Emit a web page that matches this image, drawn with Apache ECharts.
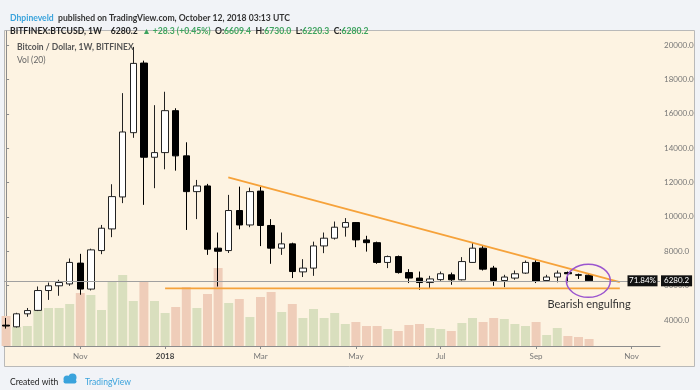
<!DOCTYPE html>
<html><head><meta charset="utf-8">
<script src="https://cdn.jsdelivr.net/npm/echarts@6/dist/echarts.min.js"></script>
<style>html,body{margin:0;padding:0;background:#f1f3f7;}#c{width:700px;height:390px;}</style>
</head><body><div id="c"></div>
<script>
// ---- data ----
const weeks = ['2017-09-18','2017-09-25','2017-10-02','2017-10-09','2017-10-16','2017-10-23','2017-10-30','2017-11-06','2017-11-13','2017-11-20','2017-11-27','2017-12-04','2017-12-11','2017-12-18','2017-12-25','2018-01-01','2018-01-08','2018-01-15','2018-01-22','2018-01-29','2018-02-05','2018-02-12','2018-02-19','2018-02-26','2018-03-05','2018-03-12','2018-03-19','2018-03-26','2018-04-02','2018-04-09','2018-04-16','2018-04-23','2018-04-30','2018-05-07','2018-05-14','2018-05-21','2018-05-28','2018-06-04','2018-06-11','2018-06-18','2018-06-25','2018-07-02','2018-07-09','2018-07-16','2018-07-23','2018-07-30','2018-08-06','2018-08-13','2018-08-20','2018-08-27','2018-09-03','2018-09-10','2018-09-17','2018-09-24','2018-10-01','2018-10-08'];
const opens  = [3700,3605,4360,4560,5715,5990,6100,7310,5800,8040,9300,11160,14900,18950,13470,13740,16180,13550,11470,11800,8180,8040,10370,9530,11500,9500,8180,8430,6800,7020,8310,8760,9400,9670,8660,8500,7350,7690,6760,6440,6180,6350,6630,6340,7350,8180,7020,6300,6440,6730,7350,6300,6500,6760,6630,6609.4];
const highs  = [4120,4420,4700,5950,6180,6340,7580,7850,8150,9530,11900,17200,19890,19090,16500,17280,16320,14340,12150,11920,9090,11280,11760,11700,11760,9870,9090,8500,7540,8560,9090,9730,9930,9700,8900,8560,7750,7750,6960,6820,6570,6820,6760,7660,8510,8310,7150,6630,6880,7460,7500,6630,6880,6820,6700,6730.0];
const lows   = [3500,3560,4190,4520,5170,5410,5990,5470,5720,7830,8820,10800,14600,10700,11670,12770,12690,9240,9870,7790,5950,7900,9280,9400,8300,7270,7790,6440,6500,6570,7890,8680,8850,8240,7980,7270,7020,6700,6150,5760,5860,6280,6050,6300,7330,6880,5990,5910,6340,6680,6150,6250,6190,6190,6390,6220.3];
const closes = [3650,4360,4550,5715,5990,6180,7350,5800,8080,9340,11180,14940,18930,13470,13740,16180,13550,11470,11800,8120,8000,10370,9530,11470,9500,8180,8430,6820,7020,8310,8760,9400,9670,8660,8500,7350,7690,6760,6440,6180,6390,6690,6340,7400,8180,6960,6300,6500,6690,7350,6250,6500,6730,6690,6609,6280.2];
const volumes = [150,95,100,180,190,190,210,265,255,180,325,355,225,325,225,165,195,295,190,260,390,215,235,145,245,270,170,210,140,185,140,165,110,120,100,100,85,75,105,110,90,85,75,115,140,120,140,135,110,100,120,55,90,50,45,35]; // K BTC
const monthTickIdx = [7,15,24,33,41,50,59];
const monthNames = ['Nov','2018','Mar','May','Jul','Sep','Nov'];
const priceTicks = [4000,6000,8000,10000,12000,14000,16000,18000,20000];
const lastPrice = 6280.2;
const resistanceLine = [[20.96,12300],[57.9,6200]];
const supportLine = [[15.0,5846],[57.9,5846]];
const noteText = 'Bearish engulfing';

// ---- chart ----
const FONT = 'Lato, "Liberation Sans", sans-serif';
const G = '#3ea35e';
const HS = 8.6;
const chart = echarts.init(document.getElementById('c'));
const candleData = weeks.map((w,i)=>[i, opens[i], closes[i], lows[i], highs[i]]);
const volData = weeks.map((w,i)=>({value:[i, volumes[i]], itemStyle:{color: closes[i]>=opens[i] ? '#d9dfbe' : '#efcdb9'}}));
const orange = '#f6a23a';

chart.setOption({
  animation:false,
  backgroundColor:'#f1f3f7',
  textStyle:{fontFamily:FONT},
  title:[
    {left:5, top:4, text:'{a|Dhpineveld} {b|published on TradingView.com, October 12, 2018 03:13 UTC}',
     textStyle:{rich:{a:{color:'#3aa3dc',fontSize:HS,fontFamily:FONT,fontWeight:'bold'}, b:{color:'#333',fontSize:HS,fontFamily:FONT}}}},
    {left:5, top:17, text:'{k|BITFINEX:BTCUSD, 1W}  {n|6280.2} {g|▲ +28.3 (+0.45%)} {k|O:}{g|6609.4} {k|H:}{g|6730.0} {k|L:}{g|6220.3} {k|C:}{g|6280.2}',
     textStyle:{rich:{k:{color:'#222',fontSize:HS,fontWeight:'bold',fontFamily:FONT}, n:{color:'#222',fontSize:HS,fontFamily:FONT}, g:{color:G,fontSize:HS,fontFamily:FONT}}}},
    {left:12, top:38, text:'Bitcoin / Dollar, 1W, BITFINEX', textStyle:{fontSize:8.5,fontWeight:'bold',color:'#555',fontFamily:FONT}},
    {left:12, top:51, text:'Vol (20)', textStyle:{fontSize:8.5,fontWeight:'normal',color:'#666',fontFamily:FONT}},
    {left:5, top:373, text:'Created with', textStyle:{fontSize:8.5,fontWeight:'normal',color:'#222',fontFamily:FONT}},
    {left:80, top:373, text:'TradingView', textStyle:{fontSize:8.5,fontWeight:'normal',color:'#3aa3dc',fontFamily:FONT}}
  ],
  graphic:[
    {id:'bg', type:'rect', z:-10, shape:{x:4.5,y:30.5,width:690,height:336}, style:{fill:'#fdf3e2', stroke:'#b9b9b9', lineWidth:1}},
    {id:'logo1', type:'circle', shape:{cx:67,cy:379,r:3.5}, style:{fill:'#3aa3dc'}},
    {id:'logo2', type:'circle', shape:{cx:72.5,cy:377.5,r:4}, style:{fill:'#3aa3dc'}},
    {id:'logo3', type:'rect', shape:{x:63.5,y:379.5,width:13,height:4,r:2}, style:{fill:'#3aa3dc'}}
  ],
  grid:{left:4, right:40, top:31, bottom:44, show:false},
  xAxis:{type:'value', min:-0.198, max:61.69,
    axisLine:{show:true, lineStyle:{color:'#8c8c8c'}},
    axisTick:{show:true, customValues:monthTickIdx, length:3, lineStyle:{color:'#8c8c8c'}},
    axisLabel:{customValues:monthTickIdx, fontSize:8, color:'#777', margin:6, fontFamily:FONT,
      formatter:v=>{const k=monthTickIdx.indexOf(Math.round(v)); const n=monthNames[k]||''; return /^\d+$/.test(n)?'{b|'+n+'}':n;},
      rich:{b:{fontWeight:'bold',color:'#444',fontSize:8,fontFamily:FONT}}},
    splitLine:{show:false}},
  yAxis:[
    {type:'value', position:'right', min:2488, max:20815, scale:true,
     axisLine:{show:true, lineStyle:{color:'#8c8c8c'}},
     axisTick:{show:true, customValues:priceTicks, length:3, lineStyle:{color:'#8c8c8c'}},
     axisLabel:{customValues:priceTicks, formatter:v=>v.toFixed(1), fontSize:8, color:'#777', margin:4, fontFamily:FONT},
     splitLine:{show:false}},
    {type:'value', min:0, max:1575, show:false}
  ],
  series:[
    {type:'bar', xAxisIndex:0, yAxisIndex:1, data:volData, barWidth:9, z:1, silent:true},
    {type:'candlestick', xAxisIndex:0, yAxisIndex:0, data:candleData, barWidth:7,
     dimensions:['idx','open','close','lowest','highest'], encode:{x:0, y:[1,2,3,4]},
     itemStyle:{color:'#ffffff', color0:'#000000', borderColor:'#222', borderColor0:'#000', borderWidth:1},
     z:3,
     markLine:{silent:true, symbol:'none', lineStyle:{color:'#a0a0a0', width:1, type:'solid'},
       label:{show:true, position:'end', formatter:String(lastPrice.toFixed(1)), backgroundColor:'#111', color:'#fff', padding:[2,3,1,3], fontSize:8, distance:1, fontFamily:FONT},
       data:[{yAxis:lastPrice}]},
     markPoint:{silent:true, symbol:'rect', symbolSize:[30,11],
       itemStyle:{color:'#111'},
       label:{show:true, position:'inside', formatter:'71.84%', color:'#fff', fontSize:8, fontFamily:FONT},
       data:[{coord:[60.04, lastPrice]}]}
    },
    {type:'line', data:resistanceLine, symbol:'none', lineStyle:{color:orange, width:1.8}, z:4, silent:true},
    {type:'line', data:supportLine, symbol:'none', lineStyle:{color:orange, width:1.8}, z:4, silent:true}
  ]
});

const ec = chart.convertToPixel({xAxisIndex:0, yAxisIndex:0}, [54.93, 6280]);
const tc = chart.convertToPixel({xAxisIndex:0, yAxisIndex:0}, [55.0, 4880]);
chart.setOption({graphic:[
  {id:'ell', type:'ellipse', z:50, shape:{cx:ec[0], cy:ec[1], rx:22, ry:16.5}, style:{fill:'none', stroke:'#9b55cf', lineWidth:1.5}},
  {id:'note', type:'text', z:50, x:tc[0], y:tc[1], style:{text:noteText, fill:'#333', font:'11px '+FONT, textAlign:'center', textVerticalAlign:'middle'}}
]});
</script></body></html>
